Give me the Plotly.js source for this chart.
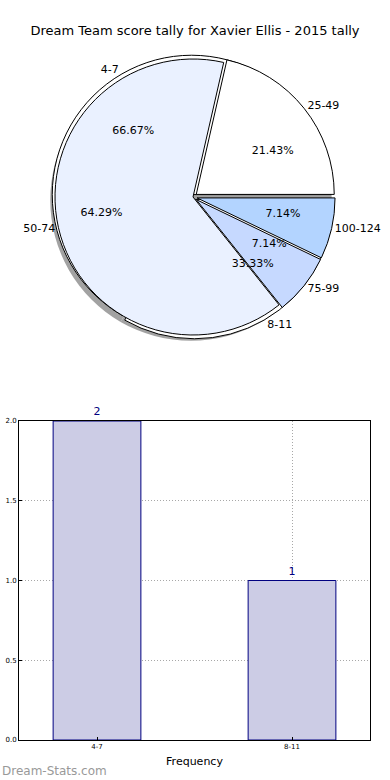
<!DOCTYPE html>
<html>
<head>
<meta charset="utf-8">
<script src="https://cdn.plot.ly/plotly-3.0.1.min.js"></script>
<style>html,body{margin:0;padding:0;background:#fff;}#chart{width:390px;height:780px;}</style>
</head>
<body>
<div id="chart"></div>
<script>
// Outer pie (tally of match counts)
var tallyLabels = ["4-7", "8-11"];
var tallyValues = [2, 1];
// Inner pie (score ranges)
var scoreLabels = ["25-49", "50-74", "75-99", "100-124"];
var scoreValues = [3, 9, 1, 1];
var scoreColors = ["#ffffff", "#eaf1ff", "#c6d9ff", "#b3d4ff"];
// Bar chart
var barCategories = ["4-7", "8-11"];
var barValues = [2, 1];
var yTicks = [0, 0.5, 1.0, 1.5, 2.0];

var W = 390, H = 780;
var cx = 193, cy = 197, R = 138, maxPull = 0.03;
function dom(dx, dy, scale) {
  var half = R * (scale || 1) * (1 + maxPull);
  return {
    x: [(cx - half + dx) / W, (cx + half + dx) / W],
    y: [1 - (cy + half + dy) / H, 1 - (cy - half + dy) / H]
  };
}
// first slice starts at 3 o'clock and runs counterclockwise (matplotlib startangle 0)
function startRot(vals) {
  var s = vals.reduce(function (a, b) { return a + b; }, 0);
  return 90 - 360 * vals[0] / s;
}
var font = "DejaVu Sans, sans-serif";
var pullA = [0.02, 0.02];
var pullB = [0.03, 0, 0.03, 0.03];
var clear = "rgba(0,0,0,0)";
var pctScale = 0.5; // percentages sit just outside a half-radius ring (about 0.6 R)

var baseA = {type: "pie", sort: false, direction: "counterclockwise", rotation: startRot(tallyValues),
  hoverinfo: "none", showlegend: false, labels: tallyLabels, values: tallyValues, pull: pullA};
var baseB = {type: "pie", sort: false, direction: "counterclockwise", rotation: startRot(scoreValues),
  hoverinfo: "none", showlegend: false, labels: scoreLabels, values: scoreValues, pull: pullB};
var tf = {family: font, size: 11, color: "#000"};

var traces = [
  // shadow
  Object.assign({}, baseA, {domain: dom(-2, 3, 1.02 / 1.03), pull: 0,
    marker: {colors: ["#8c8c8c", "#8c8c8c"], line: {width: 0}}, textinfo: "none", opacity: 0.8}),
  // outer pie (white wedges)
  Object.assign({}, baseA, {domain: dom(0, 0),
    marker: {colors: ["#ffffff", "#ffffff"], line: {color: "#000", width: 1}}, textinfo: "none"}),
  // inner pie
  Object.assign({}, baseB, {domain: dom(0, 0),
    marker: {colors: scoreColors, line: {color: "#000", width: 1}}, textinfo: "none"}),
  // inner pie labels
  Object.assign({}, baseB, {domain: dom(0, 0),
    marker: {colors: scoreLabels.map(function () { return clear; }), line: {width: 0}},
    textposition: "outside", texttemplate: "%{label}", textfont: tf}),
  // inner pie percentages
  Object.assign({}, baseB, {domain: dom(0, 0, pctScale),
    marker: {colors: scoreLabels.map(function () { return clear; }), line: {width: 0}},
    textposition: "outside", texttemplate: "%{percent:.2%}", textfont: tf}),
  // outer pie percentages
  Object.assign({}, baseA, {domain: dom(0, 0, pctScale),
    marker: {colors: [clear, clear], line: {width: 0}},
    textposition: "outside", texttemplate: "%{percent:.2%}", textfont: tf}),
  // outer pie labels
  Object.assign({}, baseA, {domain: dom(0, 0),
    marker: {colors: [clear, clear], line: {width: 0}},
    textposition: "outside", texttemplate: "%{label}", textfont: tf}),
  // bar chart
  {type: "bar", x: barCategories, y: barValues, width: 0.45, xaxis: "x", yaxis: "y",
   marker: {color: "#ccccE5", line: {color: "#000080", width: 1}},
   text: barValues.map(String), textposition: "outside", cliponaxis: false,
   textfont: {family: font, size: 11, color: "#000080"}, hoverinfo: "none", showlegend: false}
];

var layout = {
  width: W, height: H,
  margin: {l: 0, r: 0, t: 0, b: 0},
  paper_bgcolor: "#fff", plot_bgcolor: "#fff",
  font: {family: font, color: "#000"},
  title: {text: "Dream Team score tally for Xavier Ellis - 2015 tally", font: {family: font, size: 13, color: "#000"},
          x: 0.5, xanchor: "center", y: 1 - 30 / H, yanchor: "middle"},
  xaxis: {domain: [19 / W, 370 / W], anchor: "y", range: [-0.4, 1.4], type: "category",
          showline: true, mirror: true, linecolor: "#000", linewidth: 1,
          showgrid: true, gridcolor: "#a8a8a8", griddash: "1px,2px", gridwidth: 1,
          ticks: "inside", ticklen: 3, tickcolor: "#000",
          tickfont: {family: font, size: 7, color: "#000"},
          title: {text: "Frequency", font: {family: font, size: 11, color: "#000"}, standoff: 6},
          zeroline: false, fixedrange: true},
  yaxis: {domain: [1 - 740 / H, 1 - 421 / H], anchor: "x", range: [0, 2],
          tickvals: yTicks, ticktext: yTicks.map(function (v) { return v.toFixed(1); }),
          showline: true, mirror: true, linecolor: "#000", linewidth: 1,
          showgrid: true, gridcolor: "#a8a8a8", griddash: "1px,2px", gridwidth: 1,
          ticks: "inside", ticklen: 3, tickcolor: "#000",
          tickfont: {family: font, size: 7, color: "#000"},
          zeroline: false, fixedrange: true},
  annotations: [{text: "Dream-Stats.com", xref: "paper", yref: "paper", x: 0, y: 0, xanchor: "left", yanchor: "bottom",
                 showarrow: false, font: {family: font, size: 12, color: "#999999"}}]
};

Plotly.newPlot("chart", traces, layout, {displayModeBar: false, staticPlot: true});
</script>
</body>
</html>
